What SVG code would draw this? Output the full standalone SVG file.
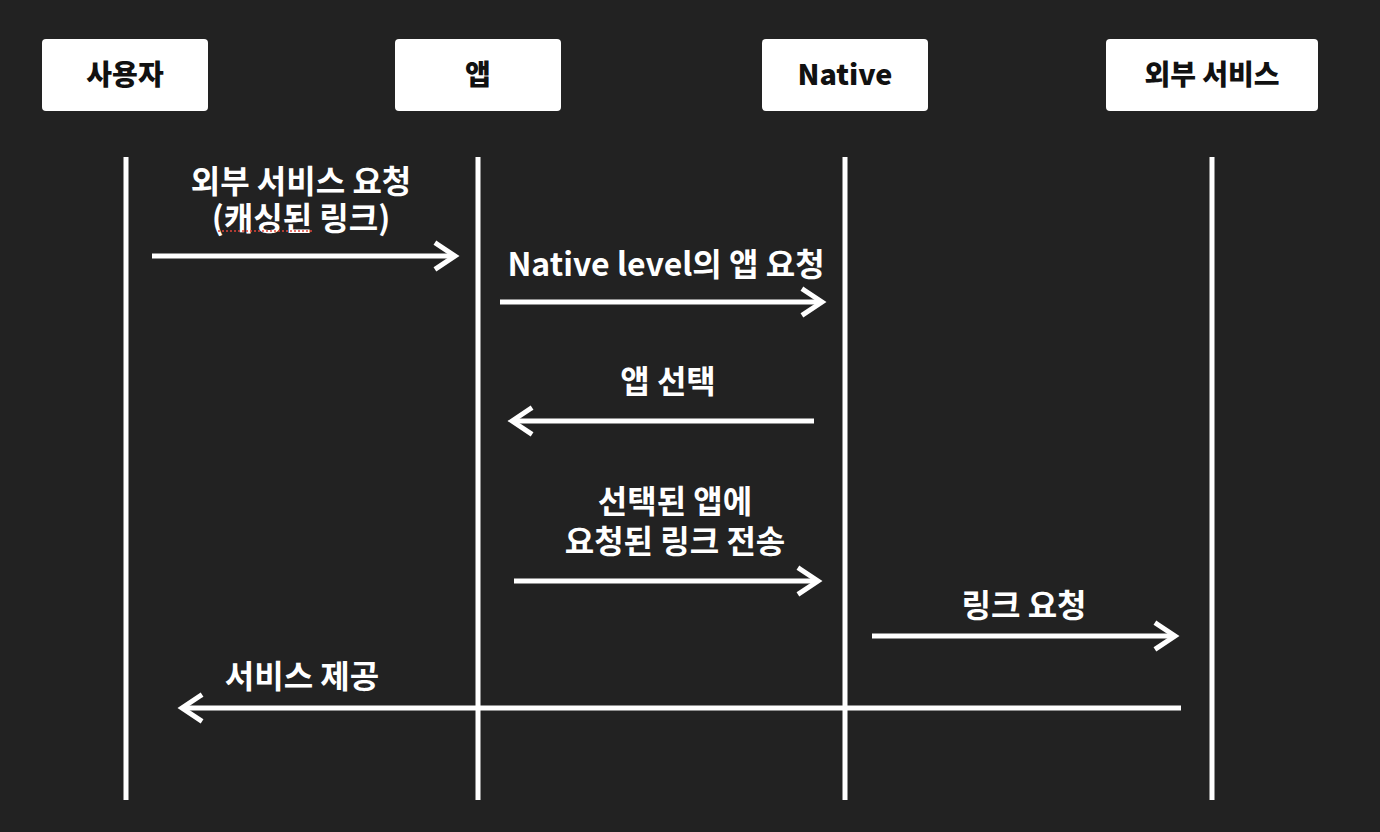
<svg xmlns="http://www.w3.org/2000/svg" width="1380" height="832" viewBox="0 0 1380 832">
<defs>
<style>
.box{fill:#ffffff}
.hd{font-family:"Noto Sans CJK KR","Noto Sans",sans-serif;font-weight:900;font-size:28px;fill:#111111;text-anchor:middle}
.lb{font-family:"Noto Sans CJK KR","Noto Sans",sans-serif;font-weight:600;font-size:32px;fill:#ffffff;text-anchor:middle}
.life{stroke:#ffffff;stroke-width:5;fill:none}
.msg{stroke:#ffffff;stroke-width:5;fill:none}
.head{stroke:#ffffff;stroke-width:5;fill:none;stroke-linecap:square;stroke-linejoin:miter}
</style>
</defs>
<rect width="1380" height="832" fill="#222222"/>
<g id="node-user"><rect class="box" x="42" y="39" width="166" height="72" rx="4"/><text class="hd" x="125" y="85">사용자</text></g>
<g id="node-app"><rect class="box" x="395" y="39" width="166" height="72" rx="4"/><text class="hd" x="478" y="85">앱</text></g>
<g id="node-native"><rect class="box" x="762" y="39" width="166" height="72" rx="4"/><text class="hd" x="845" y="85" textLength="95" lengthAdjust="spacingAndGlyphs">Native</text></g>
<g id="node-external"><rect class="box" x="1106" y="39" width="212" height="72" rx="4"/><text class="hd" x="1212" y="85">외부 서비스</text></g>
<g id="lifelines">
<line class="life" x1="126" y1="157" x2="126" y2="800"/>
<line class="life" x1="478" y1="157" x2="478" y2="800"/>
<line class="life" x1="845" y1="157" x2="845" y2="800"/>
<line class="life" x1="1212" y1="157" x2="1212" y2="800"/>
</g>
<g id="connectors">
<line class="msg" x1="152" y1="256" x2="455" y2="256"/><polyline class="head" points="437,244 455,256 437,268"/>
<line class="msg" x1="500" y1="302" x2="822" y2="302"/><polyline class="head" points="804,290 822,302 804,314"/>
<line class="msg" x1="814" y1="421" x2="512" y2="421"/><polyline class="head" points="530,409 512,421 530,433"/>
<line class="msg" x1="514" y1="581" x2="818" y2="581"/><polyline class="head" points="800,569 818,581 800,593"/>
<line class="msg" x1="872" y1="636" x2="1175" y2="636"/><polyline class="head" points="1157,624 1175,636 1157,648"/>
<line class="msg" x1="1181" y1="708" x2="182" y2="708"/><polyline class="head" points="200,696 182,708 200,720"/>
</g>
<g id="labels">
<text class="lb" x="301" y="193">외부 서비스 요청</text>
<text class="lb" x="301" y="230">(캐싱된 링크)</text>
<line x1="218" y1="231" x2="313" y2="231" stroke="#e0463a" stroke-width="1.5" stroke-dasharray="2,2"/>
<text class="lb" x="666" y="276">Native level의 앱 요청</text>
<text class="lb" x="668" y="393">앱 선택</text>
<text class="lb" x="675" y="513">선택된 앱에</text>
<text class="lb" x="675" y="553">요청된 링크 전송</text>
<text class="lb" x="1024" y="617">링크 요청</text>
<text class="lb" x="302" y="688">서비스 제공</text>
</g>
</svg>
